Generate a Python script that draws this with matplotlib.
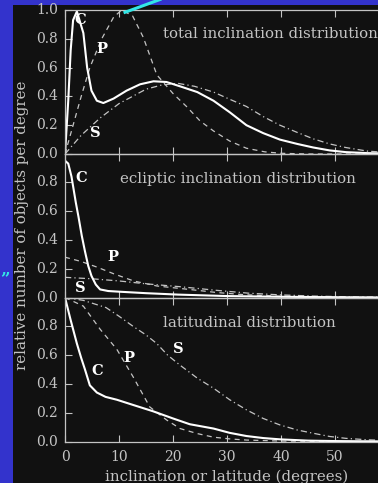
import matplotlib
matplotlib.use("Agg")
import matplotlib.pyplot as plt
from matplotlib.lines import Line2D
from matplotlib.patches import Rectangle

# ---- data: relative number of objects per degree ----
# total inclination distribution
tot_c_x = [0, 0.6, 1.05, 1.5, 2.2, 3.4, 4.1, 4.9, 5.9, 7.1, 9.0, 11.4, 13.9, 16.4, 18.8, 21.3, 24.5, 27.5, 30.5, 33.6, 36.7, 39.8, 43, 46, 49, 52, 56, 60]
tot_c_y = [0, 0.37, 0.72, 0.93, 0.99, 0.84, 0.60, 0.44, 0.37, 0.354, 0.385, 0.44, 0.484, 0.505, 0.50, 0.47, 0.43, 0.37, 0.29, 0.20, 0.145, 0.10, 0.07, 0.045, 0.025, 0.013, 0.006, 0.003]
tot_p_x = [0, 1.5, 3.0, 4.6, 6.8, 9.0, 10.5, 12.5, 14.5, 17.0, 20.0, 22.5, 25.0, 27.5, 30.5, 33.6, 37.0, 40.0, 45, 50, 60]
tot_p_y = [0, 0.2, 0.4, 0.6, 0.8, 0.95, 1.0, 0.96, 0.81, 0.55, 0.42, 0.33, 0.23, 0.16, 0.09, 0.04, 0.015, 0.005, 0.0, 0.0, 0.0]
tot_s_x = [0, 3.0, 6.5, 10.0, 15.0, 18.0, 21.0, 24.0, 27.5, 30.5, 33.6, 36.7, 39.8, 43, 46, 49, 52, 56, 60]
tot_s_y = [0, 0.13, 0.25, 0.35, 0.45, 0.48, 0.49, 0.47, 0.43, 0.38, 0.33, 0.26, 0.20, 0.15, 0.105, 0.07, 0.045, 0.02, 0.01]

# ecliptic inclination distribution
ecl_c_x = [0, 0.6, 1.2, 2.0, 2.5, 3.1, 3.7, 4.3, 4.9, 5.7, 6.5, 8.0, 10.2, 15.0, 21.0, 30.0, 40.0, 50.0, 60.0]
ecl_c_y = [0.95, 0.93, 0.84, 0.66, 0.56, 0.43, 0.32, 0.22, 0.15, 0.09, 0.056, 0.045, 0.04, 0.03, 0.02, 0.01, 0.005, 0.002, 0.0]
ecl_p_x = [0, 3, 6, 9, 12.7, 17, 23, 28, 33, 40, 50, 60]
ecl_p_y = [0.28, 0.25, 0.21, 0.165, 0.115, 0.08, 0.056, 0.035, 0.02, 0.008, 0.002, 0.0]
ecl_s_x = [0, 5, 10, 15, 21.3, 28, 34, 40, 46, 52, 60]
ecl_s_y = [0.14, 0.13, 0.115, 0.095, 0.075, 0.05, 0.03, 0.018, 0.01, 0.005, 0.002]

# latitudinal distribution
lat_c_x = [0, 1.0, 2.2, 3.0, 3.7, 4.6, 5.9, 7.5, 9.6, 12.6, 16.3, 20.0, 23.1, 27.5, 30.5, 33.6, 36.7, 39.8, 45, 50, 60]
lat_c_y = [1.0, 0.85, 0.68, 0.58, 0.50, 0.39, 0.34, 0.31, 0.29, 0.254, 0.21, 0.16, 0.12, 0.09, 0.06, 0.038, 0.024, 0.015, 0.006, 0.003, 0.0]
lat_p_x = [0, 3.4, 6.5, 9.6, 12.6, 15.7, 18.8, 21.3, 24.5, 27.5, 30.5, 33.6, 40, 50, 60]
lat_p_y = [1.0, 0.94, 0.78, 0.64, 0.45, 0.24, 0.15, 0.09, 0.055, 0.03, 0.018, 0.01, 0.003, 0.0, 0.0]
lat_s_x = [0, 3.4, 7.6, 10.0, 12.6, 15.0, 17.0, 19.0, 21.3, 24.5, 27.5, 30.5, 33.6, 36.7, 39.8, 43, 46, 49, 52, 56, 60]
lat_s_y = [1.0, 0.98, 0.93, 0.87, 0.80, 0.74, 0.68, 0.60, 0.53, 0.44, 0.37, 0.29, 0.22, 0.16, 0.115, 0.08, 0.057, 0.035, 0.022, 0.012, 0.006]

panel_titles = ["total inclination distribution",
                "ecliptic inclination distribution",
                "latitudinal distribution"]
title_pos = [(18.2, 0.83), (10.2, 0.82), (18.2, 0.825)]
letter_pos = [
    {"C": (2.8, 0.93), "P": (6.8, 0.73), "S": (5.7, 0.145)},
    {"C": (3.0, 0.83), "P": (8.9, 0.28), "S": (2.8, 0.064)},
    {"C": (5.9, 0.49), "P": (11.9, 0.58), "S": (20.9, 0.64)},
]
x_ticks = [0, 10, 20, 30, 40, 50]
y_ticks = [0.0, 0.2, 0.4, 0.6, 0.8, 1.0]

panels = [
    (tot_c_x, tot_c_y, tot_p_x, tot_p_y, tot_s_x, tot_s_y),
    (ecl_c_x, ecl_c_y, ecl_p_x, ecl_p_y, ecl_s_x, ecl_s_y),
    (lat_c_x, lat_c_y, lat_p_x, lat_p_y, lat_s_x, lat_s_y),
]

W, H = 378, 483
BLUE = "#3333cc"
DARK = "#111111"
GREY = "#c4c4c4"
FONT = ["DejaVu Serif"]
TXT = 10.8

fig = plt.figure(figsize=(W / 100, H / 100), dpi=100, facecolor=BLUE)

def fx(px):
    return px / W

def fy(py):
    return 1 - py / H

# dark slide panel
fig.add_artist(Rectangle((fx(13), 0), 1 - fx(13), fy(5), transform=fig.transFigure,
                         facecolor=DARK, edgecolor="none", zorder=0))

left = fx(65)
width = 324 / W
tops = [10, 153.5, 297.5]
ph = 144 / H

for i, (cx, cy, px_, py_, sx, sy) in enumerate(panels):
    ax = fig.add_axes([left, fy(tops[i] + 144), width, ph])
    ax.patch.set_alpha(0)
    ax.plot(sx, sy, color=GREY, lw=0.9, dashes=(5, 2.5, 1, 2.5))
    ax.plot(px_, py_, color=GREY, lw=0.9, dashes=(4, 3.5))
    ax.plot(cx, cy, color="white", lw=1.5)
    ax.set_xlim(0, 60)
    ax.set_ylim(0, 1)
    ax.set_xticks(x_ticks)
    yt = y_ticks if i == 0 else y_ticks[:-1]
    ax.set_yticks(yt)
    ax.set_yticklabels([f"{v:.1f}" for v in yt])
    for sp in ax.spines.values():
        sp.set_color(GREY)
        sp.set_linewidth(0.9)
    ax.tick_params(direction="in", length=5, width=0.8, color=GREY,
                   top=True, right=True, labelcolor=GREY, labelsize=10, pad=5)
    for lab in ax.get_yticklabels() + ax.get_xticklabels():
        lab.set_family(FONT)
        lab.set_va("center")
    if i < 2:
        ax.tick_params(labelbottom=False)
    else:
        ax.tick_params(axis="x", pad=11)
        ax.set_xlabel("inclination or latitude (degrees)", color=GREY, fontsize=TXT,
                      family=FONT, labelpad=4)
    tx, ty = title_pos[i]
    ax.text(tx, ty, panel_titles[i], color=GREY, fontsize=TXT, family=FONT,
            ha="left", va="center")
    for k, (lx, ly) in letter_pos[i].items():
        ax.text(lx, ly, k, color="white", fontsize=10.5, fontweight="bold",
                family=FONT, ha="center", va="center")

fig.text(fx(22), fy(225.5), "relative number of objects per degree", color=GREY,
         fontsize=TXT, family=FONT, rotation=90, ha="center", va="center")

# cyan pointer running off the top edge and a stray quote mark on the slide
fig.add_artist(Line2D([fx(125), fx(160)], [fy(12.3), fy(-0.5)], transform=fig.transFigure,
                      color="#33e6e6", lw=2.2))
fig.text(fx(4.5), fy(279), "\u201d", color="#33e6e6", fontsize=12, fontweight="bold",
         family=FONT, ha="center", va="center")

fig.savefig("out.png", dpi=100, facecolor=BLUE)
